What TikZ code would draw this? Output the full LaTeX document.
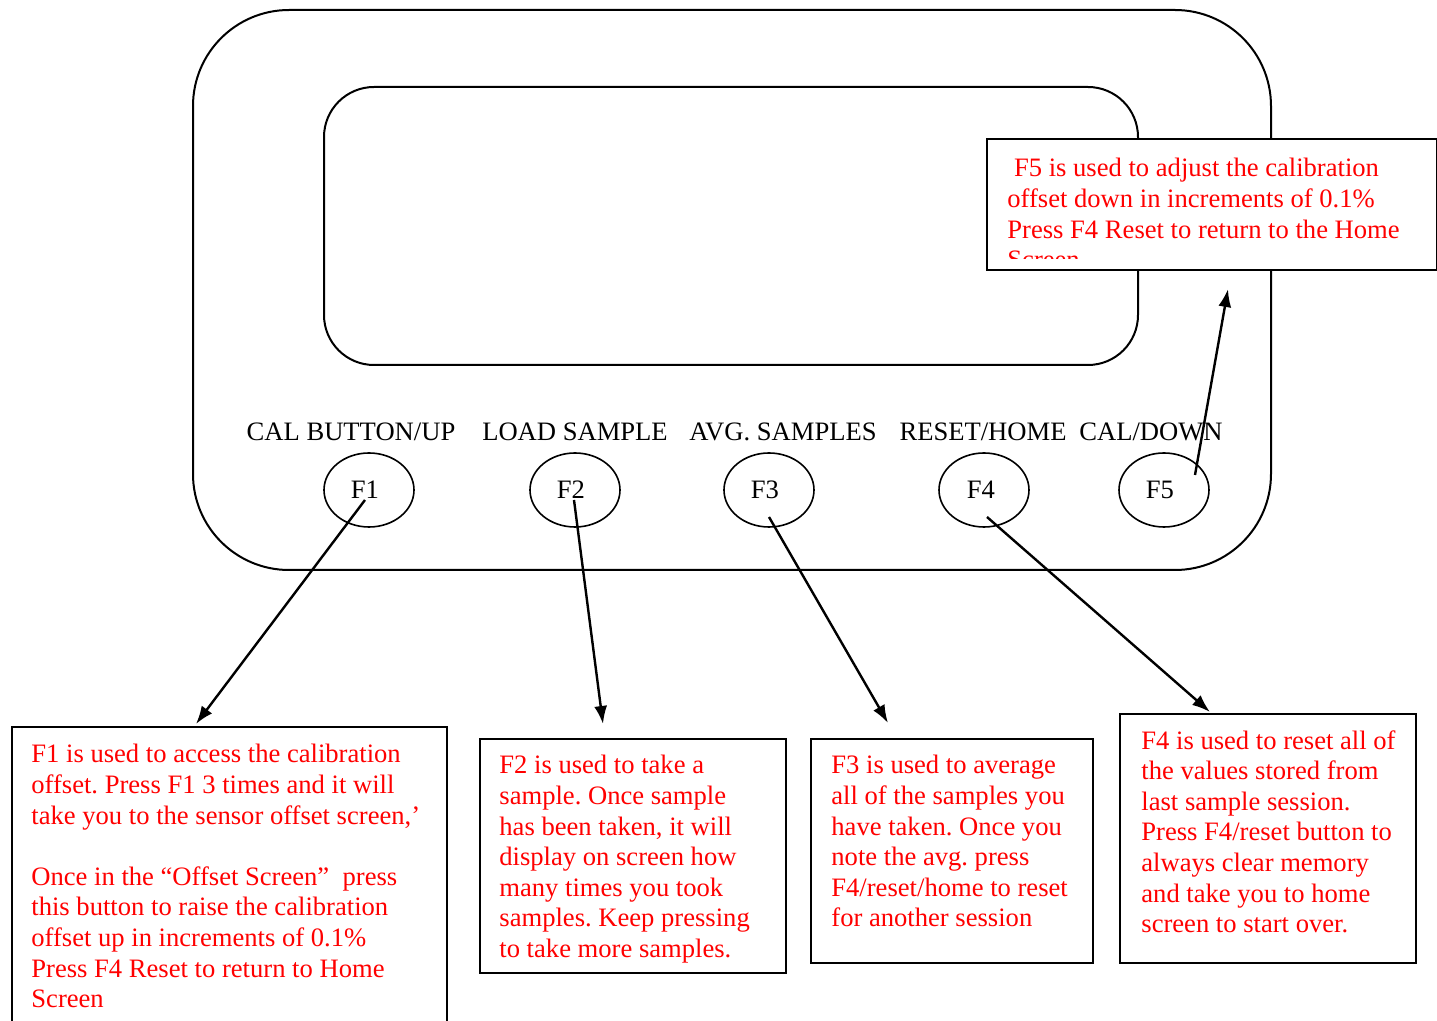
\documentclass[tikz,border=0pt]{standalone}
\usepackage{fontspec}
\setmainfont{Liberation Serif}
\usetikzlibrary{shapes.geometric,arrows.meta}
\frenchspacing

\tikzset{
  keycap/.style={draw,ellipse,line width=0.8pt,minimum width=45pt,minimum height=37pt,inner sep=0pt},
  keyname/.style={anchor=base,inner sep=0pt},
  notebox/.style={draw,fill=white,line width=1pt,anchor=north west,inner sep=0pt},
  notetext/.style={anchor=north west,inner sep=0pt,align=left,text=red},
  pointer/.style={line width=1.2pt,-{Latex[length=9pt,width=6.5pt]}}
}

\begin{document}
\begin{tikzpicture}[x=0.5pt,y=-0.5pt,font=\fontsize{13.3pt}{15.3pt}\selectfont]
  \useasboundingbox (0,0) rectangle (1437,1021);
  %housing and screen
  \draw[line width=1pt,rounded corners=48pt] (193,10) rectangle (1271,570);
  \draw[line width=1pt,rounded corners=25pt] (324,87) rectangle (1138,365);

  %key labels
  \node[keyname] (lbl1) at (351,441) {CAL BUTTON/UP};
  \node[keyname] (lbl2) at (575,441) {LOAD SAMPLE};
  \node[keyname] (lbl3) at (783,441) {AVG. SAMPLES};
  \node[keyname] (lbl4) at (983,441) {RESET/HOME};
  \node[keyname] (lbl5) at (1151,441) {CAL/DOWN};

  %keys
  \node[keycap] (f1) at (369,490) {\hspace*{-4pt}F1};
  \node[keycap] (f2) at (575,490) {\hspace*{-4pt}F2};
  \node[keycap] (f3) at (769,490) {\hspace*{-4pt}F3};
  \node[keycap] (f4) at (984,490) {\hspace*{-3pt}F4};
  \node[keycap] (f5) at (1164,490) {\hspace*{-4pt}F5};

  %F5 note (cut off at the bottom)
  \node[notebox,minimum width=225pt,minimum height=65.5pt] (f5box) at (986,138) {};
  \begin{scope}
    \clip (988,140) rectangle (1434,259);
    \node[notetext] (f5text) at (1007,158) {\ F5 is used to adjust the calibration\\
      offset down in increments of 0.1\%\\
      Press F4 Reset to return to the Home\\
      Screen};
  \end{scope}

  %notes below
  \node[notebox,minimum width=217.5pt,minimum height=152pt] (f1box) at (11,726) {};
  \node[notetext] (f1text) at (31,744) {F1 is used to access the calibration\\
    offset. Press F1 3 times and it will\\
    take you to the sensor offset screen,’\\[15.3pt]
    Once in the “Offset Screen”~ press\\
    this button to raise the calibration\\
    offset up in increments of 0.1\%\\
    Press F4 Reset to return to Home\\
    Screen};

  \node[notebox,minimum width=153pt,minimum height=117pt] (f2box) at (479,738) {};
  \node[notetext] (f2text) at (499,755) {F2 is used to take a\\
    sample. Once sample\\
    has been taken, it will\\
    display on screen how\\
    many times you took\\
    samples. Keep pressing\\
    to take more samples.};

  \node[notebox,minimum width=141pt,minimum height=112pt] (f3box) at (810,738) {};
  \node[notetext] (f3text) at (831,755) {F3 is used to average\\
    all of the samples you\\
    have taken. Once you\\
    note the avg. press\\
    F4/reset/home to reset\\
    for another session};

  \node[notebox,minimum width=148pt,minimum height=124.5pt] (f4box) at (1119,713) {};
  \node[notetext] (f4text) at (1141,730) {F4 is used to reset all of\\
    the values stored from\\
    last sample session.\\
    Press F4/reset button to\\
    always clear memory\\
    and take you to home\\
    screen to start over.};

  %arrows
  \coordinate (f1tail) at ([shift={(-4,10)}]f1.center);
  \coordinate (f2tail) at ([shift={(-1,10)}]f2.center);
  \coordinate (f3tail) at ([shift={(0,27)}]f3.center);
  \coordinate (f4tail) at ([shift={(3,27)}]f4.center);
  \coordinate (f5tail) at ([shift={(31,-15)}]f5.center);
  \coordinate (f1tip) at ([shift={(185,-2)}]f1box.north west);
  \coordinate (f2tip) at ([shift={(124,-14)}]f2box.north west);
  \coordinate (f3tip) at ([shift={(78,-15)}]f3box.north west);
  \coordinate (f4tip) at ([shift={(91,-1)}]f4box.north west);
  \coordinate (f5tip) at ([shift={(242,18)}]f5box.south west);
  \draw[pointer] (f1tail) -- (f1tip);
  \draw[pointer] (f2tail) -- (f2tip);
  \draw[pointer] (f3tail) -- (f3tip);
  \draw[pointer] (f4tail) -- (f4tip);
  \draw[pointer] (f5tail) -- (f5tip);
\end{tikzpicture}
\end{document}
